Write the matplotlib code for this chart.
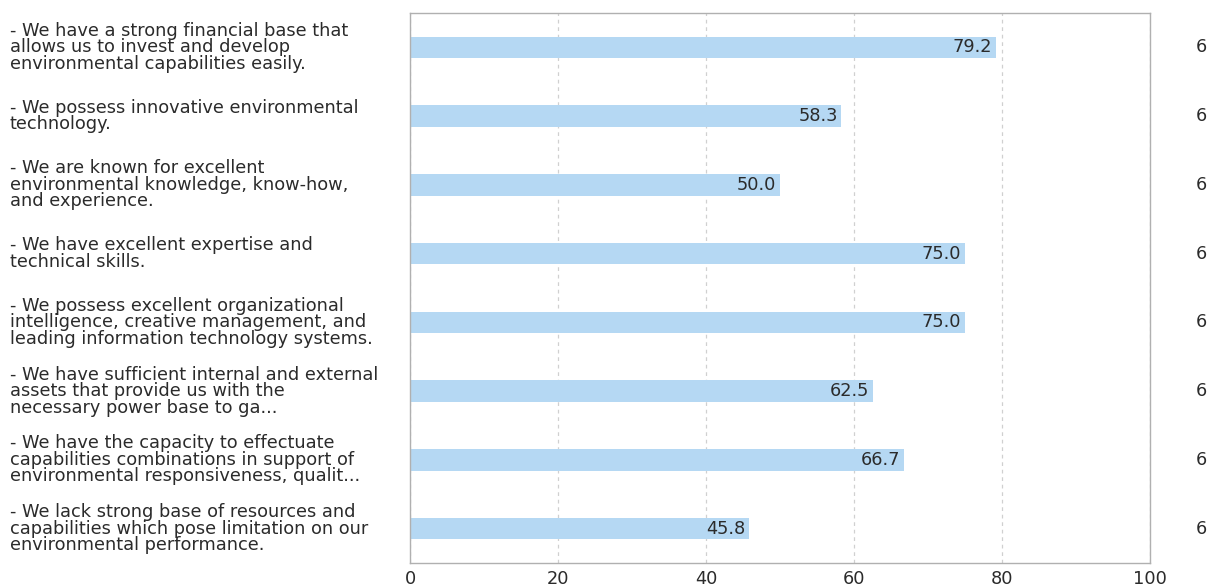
import matplotlib
matplotlib.use("Agg")
import matplotlib.pyplot as plt
import matplotlib.transforms as mtransforms

statements = [
    "- We have a strong financial base that\nallows us to invest and develop\nenvironmental capabilities easily.",
    "- We possess innovative environmental\ntechnology.",
    "- We are known for excellent\nenvironmental knowledge, know-how,\nand experience.",
    "- We have excellent expertise and\ntechnical skills.",
    "- We possess excellent organizational\nintelligence, creative management, and\nleading information technology systems.",
    "- We have sufficient internal and external\nassets that provide us with the\nnecessary power base to ga...",
    "- We have the capacity to effectuate\ncapabilities combinations in support of\nenvironmental responsiveness, qualit...",
    "- We lack strong base of resources and\ncapabilities which pose limitation on our\nenvironmental performance.",
]
scores = [79.2, 58.3, 50.0, 75.0, 75.0, 62.5, 66.7, 45.8]
counts = [6, 6, 6, 6, 6, 6, 6, 6]
x_ticks = [0, 20, 40, 60, 80, 100]

plt.rcParams["font.family"] = ["DejaVu Sans"]
text_color = "#2b2b2b"
bar_color = "#b5d8f3"
fs = 12.8

fig = plt.figure(figsize=(12.11, 5.87), dpi=100)
ax = fig.add_axes([410 / 1211, 1 - 563 / 587, 740 / 1211, 550 / 587])

ypos = list(range(len(scores)))
ax.barh(ypos, scores, height=0.31, color=bar_color, zorder=2)
ax.set_xlim(0, 100)
ax.set_ylim(len(scores) - 0.5, -0.5)

ax.set_xticks(x_ticks)
ax.set_xticklabels([str(t) for t in x_ticks], fontsize=fs, color=text_color)
ax.tick_params(axis="x", length=0, pad=5)
ax.set_yticks([])
ax.grid(axis="x", linestyle=(0, (3, 3)), color="#d0d0d0", linewidth=0.9, zorder=0)

for s in ax.spines.values():
    s.set_color("#b0b0b0")
    s.set_linewidth(1.0)

for y, v in zip(ypos, scores):
    ax.text(v - 0.5, y, f"{v:.1f}", ha="right", va="center",
            fontsize=fs, color=text_color, zorder=3)

left_tr = mtransforms.blended_transform_factory(fig.transFigure, ax.transData)
for y, label in zip(ypos, statements):
    ax.text(10 / 1211, y, label, transform=left_tr, ha="left", va="center",
            fontsize=fs, color=text_color, linespacing=0.9, clip_on=False)

for y, c in zip(ypos, counts):
    ax.text(1201 / 1211, y, str(c), transform=left_tr, ha="center", va="center",
            fontsize=fs, color=text_color, clip_on=False)

fig.savefig("out.png", dpi=100, facecolor="white")
